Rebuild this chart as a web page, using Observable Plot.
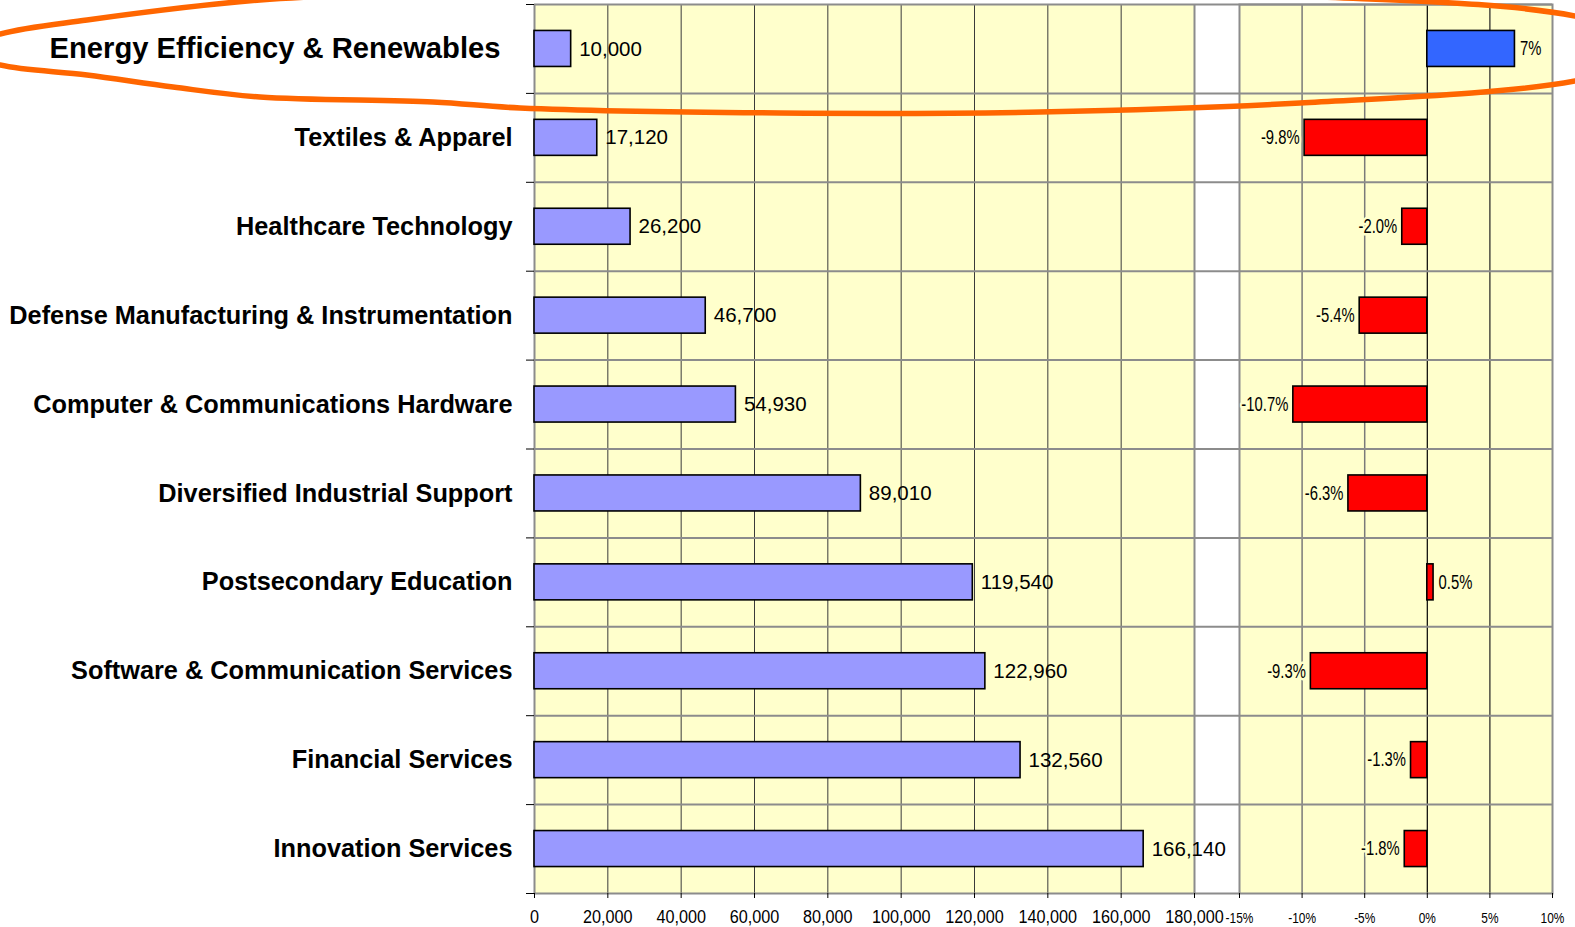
<!DOCTYPE html>
<html><head><meta charset="utf-8">
<script src="https://cdn.jsdelivr.net/npm/d3@7"></script>
<script src="https://cdn.jsdelivr.net/npm/@observablehq/plot@0.6"></script>
<style>
html,body{margin:0;padding:0;background:#fff;}
#chart{position:relative;width:1575px;height:927px;overflow:hidden;font-family:"Liberation Sans",Arial,sans-serif;}
#chart > svg{position:absolute;top:0;}
</style></head><body><div id="chart"></div>
<script>
// ---- data ----
const categories = [
  "Energy Efficiency & Renewables",
  "Textiles & Apparel",
  "Healthcare Technology",
  "Defense Manufacturing & Instrumentation",
  "Computer & Communications Hardware",
  "Diversified Industrial Support",
  "Postsecondary Education",
  "Software & Communication Services",
  "Financial Services",
  "Innovation Services"
];
const employment = [10000, 17120, 26200, 46700, 54930, 89010, 119540, 122960, 132560, 166140];
const changePct = [7, -9.8, -2.0, -5.4, -10.7, -6.3, 0.5, -9.3, -1.3, -1.8];
const changeLabels = ["7%", "-9.8%", "-2.0%", "-5.4%", "-10.7%", "-6.3%", "0.5%", "-9.3%", "-1.3%", "-1.8%"];
const employmentTicks = [0, 20000, 40000, 60000, 80000, 100000, 120000, 140000, 160000, 180000];
const changeTicks = [-15, -10, -5, 0, 5, 10];
const highlight = "Energy Efficiency & Renewables";
// hand-drawn highlight oval outline (page pixels)
const ovalOutline = [[-40,50],[0,34],[87,20],[260,0],[520,-10],[900,-14],[1300,-4],[1575,16],[1680,50],
  [1575,81],[1300,103],[1040,112],[780,113],[520,108],[433,102],[260,97],[173,87],[87,75],[0,65]];

const rows = categories.map((name, i) => ({name, employment: employment[i], change: changePct[i], label: changeLabels[i]}));

// ---- layout ----
const W = 1575, H = 927, TOP = 4, BOTTOM = 893;
const rowH = (BOTTOM - TOP) / categories.length;
const L0 = 534, L1 = 1194, R0 = 1239, R1 = 1552;
const inset = (rowH - 36) / 2;
const YEL = "#FFFFCC", GRID = "#8c8c8c";
const leftMax = 180000;
const pxToEmp = leftMax / (L1 - L0);
const last = categories[categories.length - 1];

const chart = document.getElementById("chart");

const left = Plot.plot({
  width: R0 + 1, height: H,
  marginLeft: L0, marginRight: R0 + 1 - L1, marginTop: TOP, marginBottom: H - BOTTOM,
  style: {background: "none", fontFamily: "'Liberation Sans',Arial,sans-serif", overflow: "visible"},
  x: {domain: [0, leftMax], label: null},
  y: {domain: categories, padding: 0, round: false, axis: null, label: null},
  marks: [
    Plot.frame({fill: YEL}),
    Plot.ruleX(employmentTicks.slice(1, -1), {stroke: "#3a3a3a", strokeWidth: 1}),
    Plot.ruleY(categories, {y: d => d, dy: -rowH / 2, x1: 0, x2: (R0 - L0) * pxToEmp, stroke: GRID, strokeWidth: 2}),
    Plot.ruleY([last], {y: d => d, dy: rowH / 2, x1: 0, x2: (R0 - L0) * pxToEmp, stroke: GRID, strokeWidth: 2}),
    Plot.ruleX([leftMax], {stroke: GRID, strokeWidth: 2}),
    Plot.ruleX([0], {stroke: GRID, strokeWidth: 2}),
    Plot.ruleY(categories, {y: d => d, dy: -rowH / 2, x1: -8 * pxToEmp, x2: 0, stroke: "#000", strokeWidth: 1}),
    Plot.ruleY([last], {y: d => d, dy: rowH / 2, x1: -8 * pxToEmp, x2: 0, stroke: "#000", strokeWidth: 1}),
    Plot.barX(rows, {y: "name", x: "employment", fill: "#9999FF", stroke: "#000", strokeWidth: 1.6, insetTop: inset, insetBottom: inset}),
    Plot.text(rows, {y: "name", x: "employment", text: d => d3.format(",")(d.employment), dx: 8, textAnchor: "start", fontSize: 20.5, fill: "#000"}),
    Plot.text(rows.filter(d => d.name !== highlight), {y: "name", frameAnchor: "left", text: "name", textAnchor: "end", dx: -22, fontSize: 25.3, fontWeight: "bold", fill: "#000"}),
    Plot.text(rows.filter(d => d.name === highlight), {y: "name", frameAnchor: "left", text: "name", textAnchor: "end", dx: -34, fontSize: 29.2, fontWeight: "bold", fill: "#000"}),
    Plot.axisX({ticks: employmentTicks, tickFormat: d3.format(","), tickSize: 5, tickPadding: 12, fontSize: 18, stroke: "#000", fill: "#000"})
  ]
});
left.style.left = "0px";
chart.appendChild(left);

const rW = W - L1;
const right = Plot.plot({
  width: rW, height: H,
  marginLeft: R0 - L1, marginRight: rW - (R1 - L1), marginTop: TOP, marginBottom: H - BOTTOM,
  style: {background: "none", fontFamily: "'Liberation Sans',Arial,sans-serif", overflow: "visible"},
  x: {domain: [-15, 10], label: null},
  y: {domain: categories, padding: 0, round: false, axis: null, label: null},
  marks: [
    Plot.frame({fill: YEL}),
    Plot.ruleX([-10, -5], {stroke: "#7a7a7a", strokeWidth: 1.5}),
    Plot.ruleX([5], {stroke: "#222", strokeWidth: 1.2}),
    Plot.ruleX([0], {stroke: "#000", strokeWidth: 1.2}),
    Plot.ruleY(categories, {y: d => d, dy: -rowH / 2, stroke: GRID, strokeWidth: 2}),
    Plot.frame({stroke: GRID, strokeWidth: 2}),
    Plot.barX(rows, {y: "name", x: "change", fill: d => d.name === highlight ? "#3366FF" : "#FF0000", stroke: "#000", strokeWidth: 1.6, insetTop: inset, insetBottom: inset}),
    Plot.text(rows.filter(d => d.change < 0), {y: "name", x: "change", text: "label", dx: -5, textAnchor: "end", fontSize: 19.5, fill: "#000", stroke: YEL, strokeWidth: 5}),
    Plot.text(rows.filter(d => d.change >= 0), {y: "name", x: "change", text: "label", dx: 5, textAnchor: "start", fontSize: 19.5, fill: "#000", stroke: YEL, strokeWidth: 5}),
    Plot.axisX({ticks: changeTicks, tickFormat: d => d + "%", tickSize: 5, tickPadding: 14, fontSize: 14.5, stroke: "#000", fill: "#000"})
  ]
});
right.style.left = L1 + "px";
chart.appendChild(right);

// condensed look of the original's small labels
function condense(nodes, k) {
  nodes.forEach(t => {
    const len = t.getComputedTextLength();
    if (len > 0) {
      t.setAttribute("textLength", (len * k).toFixed(2));
      t.setAttribute("lengthAdjust", "spacingAndGlyphs");
    }
  });
}
condense(right.querySelectorAll('g[aria-label="text"] text'), 0.76);
condense(right.querySelectorAll('g[aria-label="x-axis tick label"] text'), 0.82);
condense(left.querySelectorAll('g[aria-label="x-axis tick label"] text'), 0.9);

// highlight oval annotation
const ns = "http://www.w3.org/2000/svg";
const ov = document.createElementNS(ns, "svg");
ov.setAttribute("width", W); ov.setAttribute("height", H);
ov.style.left = "0px"; ov.style.pointerEvents = "none";
const path = document.createElementNS(ns, "path");
path.setAttribute("d", d3.line().curve(d3.curveCatmullRomClosed.alpha(0.5))(ovalOutline));
path.setAttribute("fill", "none");
path.setAttribute("stroke", "#FF6600");
path.setAttribute("stroke-width", 5.5);
ov.appendChild(path);
chart.appendChild(ov);
</script></body></html>
